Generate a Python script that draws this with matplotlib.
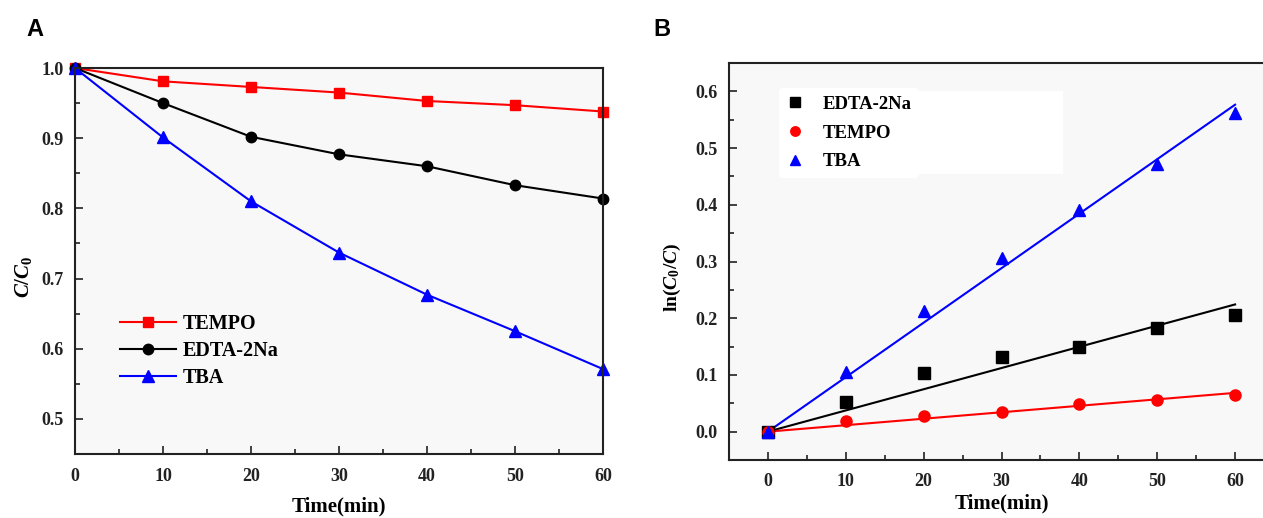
import numpy as np
import matplotlib
matplotlib.use("Agg")
import matplotlib.pyplot as plt
from matplotlib.ticker import MultipleLocator
from matplotlib.patches import Rectangle

# ---- data ----
time = [0, 10, 20, 30, 40, 50, 60]
a_tempo = [1.0, 0.981, 0.973, 0.965, 0.953, 0.947, 0.938]
a_edta = [1.0, 0.950, 0.902, 0.877, 0.860, 0.833, 0.814]
a_tba = [1.0, 0.901, 0.810, 0.737, 0.677, 0.625, 0.571]

b_edta = [0.0, 0.052, 0.103, 0.131, 0.150, 0.183, 0.206]
b_tempo = [0.0, 0.019, 0.028, 0.035, 0.048, 0.055, 0.065]
b_tba = [0.0, 0.105, 0.212, 0.306, 0.391, 0.472, 0.562]

a_xticks = [0, 10, 20, 30, 40, 50, 60]
a_yticks = [0.5, 0.6, 0.7, 0.8, 0.9, 1.0]
b_yticks = [0.0, 0.1, 0.2, 0.3, 0.4, 0.5, 0.6]

plt.rcParams['font.family'] = ['Liberation Serif', 'DejaVu Serif']
plt.rcParams['mathtext.fontset'] = 'custom'
plt.rcParams['mathtext.rm'] = 'Liberation Serif:bold'
plt.rcParams['mathtext.it'] = 'Liberation Serif:italic:bold'
plt.rcParams['mathtext.bf'] = 'Liberation Serif:bold'

W, H = 1263, 518
fig = plt.figure(figsize=(W / 100, H / 100), dpi=100)
fig.patch.set_facecolor('white')

def pos(l, r, t, b):
    return [l / W, 1 - b / H, (r - l) / W, (b - t) / H]

bg = '#f8f8f8'

def style(ax, xpad=10):
    ax.set_facecolor(bg)
    for s in ax.spines.values():
        s.set_linewidth(1.5)
        s.set_color('#222222')
    ax.tick_params(which='both', direction='in', top=False, right=False,
                   labelsize=13, width=1.2, colors='#222222')
    ax.tick_params(which='major', length=6)
    ax.tick_params(which='minor', length=3.5)
    ax.tick_params(axis='x', which='major', pad=xpad)
    ax.tick_params(axis='y', which='major', pad=8)
    for lab in ax.get_xticklabels() + ax.get_yticklabels():
        lab.set_fontweight('bold')

# ---- Panel A ----
axA = fig.add_axes(pos(75, 603, 68, 454))
axA.plot(time, a_tempo, color='#ff0000', marker='s', markersize=7, lw=1.5, label='TEMPO', clip_on=False)
axA.plot(time, a_edta, color='black', marker='o', markersize=7.5, lw=1.5, label='EDTA-2Na', clip_on=False)
axA.plot(time, a_tba, color='#0000ff', marker='^', markersize=8, lw=1.5, label='TBA', clip_on=False)
axA.set_xlim(0, 60)
axA.set_ylim(0.45, 1.0)
axA.set_xticks(a_xticks)
axA.set_yticks(a_yticks)
axA.set_yticklabels([f'{v:.1f}' for v in a_yticks])
axA.xaxis.set_minor_locator(MultipleLocator(5))
axA.yaxis.set_minor_locator(MultipleLocator(0.05))
style(axA)
axA.set_xlabel('Time(min)', fontsize=15, fontweight='bold', labelpad=8)
axA.set_ylabel(r'$C/C_0$', fontsize=15, labelpad=8)
axA.yaxis.set_label_coords(-0.078, 0.46)
legA = axA.legend(loc='upper left', bbox_to_anchor=(0.05, 0.41), frameon=False,
                  prop={'weight': 'bold', 'size': 14.5}, handlelength=2.8,
                  handletextpad=0.35, labelspacing=0.34)

# ---- Panel B ----
axB = fig.add_axes(pos(729, 1274, 63, 460))
tx = np.array(time, dtype=float)
series = [(b_edta, 'black', 's', 'EDTA-2Na'),
          (b_tempo, '#ff0000', 'o', 'TEMPO'),
          (b_tba, '#0000ff', '^', 'TBA')]
for ys, c, m, lab in series:
    y = np.array(ys)
    k = np.sum(tx * y) / np.sum(tx * tx)
    axB.plot(tx, k * tx, color=c, lw=1.5, zorder=2)
for ys, c, m, lab in series:
    axB.plot(time, ys, linestyle='none', marker=m, color=c, markersize=8, label=lab, zorder=3)
axB.set_xlim(-5, 65)
axB.set_ylim(-0.05, 0.65)
axB.set_xticks(a_xticks)
axB.set_yticks(b_yticks)
axB.set_yticklabels([f'{v:.1f}' for v in b_yticks])
axB.xaxis.set_minor_locator(MultipleLocator(5))
axB.yaxis.set_minor_locator(MultipleLocator(0.05))
style(axB, xpad=9)
axB.set_xlabel('Time(min)', fontsize=15, fontweight='bold', labelpad=3)
axB.set_ylabel(r'ln($C_0$/$C$)', fontsize=14, fontweight='bold', labelpad=8)
axB.yaxis.set_label_coords(-0.085, 0.46)
# white box in legend region (as in reference)
axB.add_patch(Rectangle((0.336, 0.72), 0.277, 0.21, transform=axB.transAxes,
                        facecolor='white', edgecolor='none', zorder=1))
legB = axB.legend(loc='upper left', bbox_to_anchor=(0.075, 0.96), frameon=True,
                  prop={'weight': 'bold', 'size': 13.5}, handlelength=0.9,
                  handletextpad=1.0, labelspacing=0.62, markerscale=0.85)
legB.get_frame().set_facecolor('white')
legB.get_frame().set_edgecolor('none')
legB.get_frame().set_alpha(1.0)

fig.text(35 / W, 1 - 30 / H, 'A', fontsize=17, fontweight='bold',
         family=['Liberation Sans', 'DejaVu Sans'], ha='center', va='center')
fig.text(662 / W, 1 - 30 / H, 'B', fontsize=17, fontweight='bold',
         family=['Liberation Sans', 'DejaVu Sans'], ha='center', va='center')

fig.savefig('out.png', dpi=100)
